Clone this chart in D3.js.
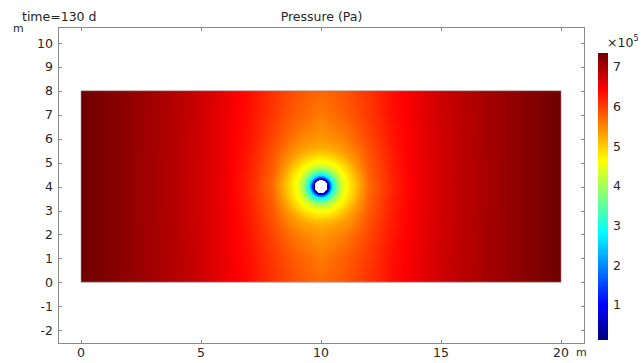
<!DOCTYPE html>
<html>
<head>
<meta charset="utf-8">
<script src="https://cdn.jsdelivr.net/npm/d3@7/dist/d3.min.js"></script>
<style>
  body { margin: 0; background: #fff; }
  svg { display: block; font-family: "DejaVu Sans", sans-serif; }
</style>
</head>
<body>
<div id="chart"></div>
<script>
// tick values
const xTicks = [0, 5, 10, 15, 20];
const yTicks = [-2, -1, 0, 1, 2, 3, 4, 5, 6, 7, 8, 9, 10];
const cbTicks = [1, 2, 3, 4, 5, 6, 7];

// geometry (m)
const blockX = [0, 20];
const blockY = [0, 8];
const wellX = 10, wellY = 4, wellR = 0.27;

// pressure (x1e5 Pa) read on a 1 m grid, columns x = 0..10, rows y = 4..8
// (the field is mirror symmetric about x = 10 and y = 4)
const gridX = [0, 1, 2, 3, 4, 5, 6, 7, 8, 9, 10];
const gridY = [4, 5, 6, 7, 8];
const pGrid = [
  [7.35, 7.24, 7.13, 7.01, 6.88, 6.72, 6.53, 6.20, 5.68, 4.62, 0.12],
  [7.35, 7.24, 7.13, 7.01, 6.88, 6.73, 6.53, 6.25, 5.80, 5.10, 4.65],
  [7.35, 7.24, 7.13, 7.02, 6.89, 6.74, 6.54, 6.30, 5.94, 5.55, 5.35],
  [7.35, 7.24, 7.13, 7.02, 6.89, 6.75, 6.55, 6.34, 6.04, 5.77, 5.57],
  [7.35, 7.24, 7.13, 7.02, 6.90, 6.76, 6.56, 6.36, 6.08, 5.85, 5.70]
];
// pressure against distance from the well (m)
const ringR = [0.27, 0.30, 0.33, 0.37, 0.42, 0.47, 0.53, 0.60, 0.70, 0.82, 1.00, 1.20, 1.42, 1.70, 2.00];
const ringP = [0.12, 0.45, 0.85, 1.45, 2.20, 2.70, 3.05, 3.40, 3.80, 4.20, 4.58, 4.80, 5.05, 5.35, 5.55];

const pRange = [0.118, 7.345];

const width = 643, height = 363;
const margin = { top: 27, right: 58, bottom: 19, left: 58 };

const svg = d3.select('#chart')
  .append('svg')
  .attr('width', width)
  .attr('height', height);

const x = d3.scaleLinear().domain([-0.96, 21]).range([margin.left, width - margin.right]);
const y = d3.scaleLinear().domain([-2.58, 10.67]).range([height - margin.bottom, margin.top]);

// jet-like colour map
const color = d3.scaleLinear()
  .domain([0, 0.125, 0.375, 0.625, 0.875, 1].map(t => pRange[0] + t * (pRange[1] - pRange[0])))
  .range(['#000080', '#0000ff', '#00ffff', '#ffff00', '#ff0000', '#700000'])
  .clamp(true);

const ringScale = d3.scaleLinear().domain(ringR).range(ringP).clamp(true);

function gridValue(px, py) {
  const qx = px > 10 ? 20 - px : px;
  const qy = py < 4 ? 8 - py : py;
  const c = Math.min(Math.floor(qx), gridX.length - 2);
  const r = Math.min(Math.floor(qy - gridY[0]), gridY.length - 2);
  const fx = qx - gridX[c], fy = qy - gridY[r];
  const a = pGrid[r][c], b = pGrid[r][c + 1];
  const d = pGrid[r + 1][c], e = pGrid[r + 1][c + 1];
  return (a * (1 - fx) + b * fx) * (1 - fy) + (d * (1 - fx) + e * fx) * fy;
}

function pressure(px, py) {
  const dist = Math.hypot(px - wellX, py - wellY);
  if (dist < wellR) return null;
  if (dist < 1.42) return ringScale(dist);
  const g = gridValue(px, py);
  if (dist < 2.0) {
    const w = (dist - 1.42) / (2.0 - 1.42);
    return ringScale(dist) * (1 - w) + g * w;
  }
  return g;
}

// raster of the field
const x0 = x(blockX[0]), x1 = x(blockX[1]);
const y0 = y(blockY[1]), y1 = y(blockY[0]);
const cw = Math.round(x1 - x0), ch = Math.round(y1 - y0);
const canvas = document.createElement('canvas');
canvas.width = cw; canvas.height = ch;
const ctx = canvas.getContext('2d');
const img = ctx.createImageData(cw, ch);
for (let j = 0; j < ch; j++) {
  const py = y.invert(y0 + j + 0.5);
  for (let i = 0; i < cw; i++) {
    const px = x.invert(x0 + i + 0.5);
    const v = pressure(px, py);
    const k = (j * cw + i) * 4;
    if (v === null) {
      img.data[k] = 255; img.data[k + 1] = 255; img.data[k + 2] = 255; img.data[k + 3] = 255;
    } else {
      const c = d3.rgb(color(v));
      img.data[k] = c.r; img.data[k + 1] = c.g; img.data[k + 2] = c.b; img.data[k + 3] = 255;
    }
  }
}
ctx.putImageData(img, 0, 0);

svg.append('image')
  .attr('x', x0).attr('y', y0)
  .attr('width', cw).attr('height', ch)
  .attr('preserveAspectRatio', 'none')
  .attr('href', canvas.toDataURL());

svg.append('rect')
  .attr('x', x0).attr('y', y0)
  .attr('width', x1 - x0).attr('height', y1 - y0)
  .attr('fill', 'none')
  .attr('stroke', '#9a8080')
  .attr('stroke-width', 0.6);

// frame and ticks (inward, on all four sides)
const frame = svg.append('g').attr('stroke', '#8a8a8a').attr('fill', 'none');
frame.append('rect')
  .attr('x', margin.left + 0.5).attr('y', margin.top + 0.5)
  .attr('width', width - margin.left - margin.right - 1)
  .attr('height', height - margin.top - margin.bottom - 1);

const tickLen = 4;
xTicks.forEach(t => {
  const px = Math.round(x(t)) + 0.5;
  frame.append('line').attr('x1', px).attr('x2', px)
    .attr('y1', height - margin.bottom).attr('y2', height - margin.bottom - tickLen);
  frame.append('line').attr('x1', px).attr('x2', px)
    .attr('y1', margin.top).attr('y2', margin.top + tickLen);
});
yTicks.forEach(t => {
  const py = Math.round(y(t)) + 0.5;
  frame.append('line').attr('y1', py).attr('y2', py)
    .attr('x1', margin.left).attr('x2', margin.left + tickLen);
  frame.append('line').attr('y1', py).attr('y2', py)
    .attr('x1', width - margin.right).attr('x2', width - margin.right - tickLen);
});

const labels = svg.append('g').attr('fill', '#262626').style('font-size', '12.5px');
labels.selectAll('.xl')
  .data(xTicks)
  .join('text')
  .attr('class', 'xl')
  .attr('x', d => x(d))
  .attr('y', 357)
  .attr('text-anchor', 'middle')
  .text(d => d);
labels.selectAll('.yl')
  .data(yTicks)
  .join('text')
  .attr('class', 'yl')
  .attr('x', margin.left - 5)
  .attr('y', d => y(d))
  .attr('dy', '0.36em')
  .attr('text-anchor', 'end')
  .text(d => d);

labels.append('text').attr('x', 321.5).attr('y', 20.5).attr('text-anchor', 'middle').text('Pressure (Pa)');
labels.append('text').attr('x', 22).attr('y', 20.5).text('time=130 d');
labels.append('text').attr('x', 13).attr('y', 32).style('font-size', '11px').text('m');
labels.append('text').attr('x', 576).attr('y', 356).style('font-size', '11px').text('m');

// colour bar
const cb = d3.scaleLinear().domain(pRange).range([340, 53]);
const defs = svg.append('defs');
const grad = defs.append('linearGradient')
  .attr('id', 'cbGrad')
  .attr('x1', 0).attr('y1', 1).attr('x2', 0).attr('y2', 0);
grad.selectAll('stop')
  .data(d3.range(0, 1.0001, 0.025))
  .join('stop')
  .attr('offset', d => d)
  .attr('stop-color', d => color(pRange[0] + d * (pRange[1] - pRange[0])));
svg.append('rect')
  .attr('x', 598).attr('y', cb(pRange[1]))
  .attr('width', 10).attr('height', cb(pRange[0]) - cb(pRange[1]))
  .attr('fill', 'url(#cbGrad)');
labels.selectAll('.cl')
  .data(cbTicks)
  .join('text')
  .attr('class', 'cl')
  .attr('x', 613)
  .attr('y', d => cb(d))
  .attr('dy', '0.36em')
  .text(d => d);
const exp = labels.append('text').attr('x', 607).attr('y', 47);
exp.append('tspan').text('×10');
exp.append('tspan').attr('dy', -6).style('font-size', '8px').text('5');
</script>
</body>
</html>
